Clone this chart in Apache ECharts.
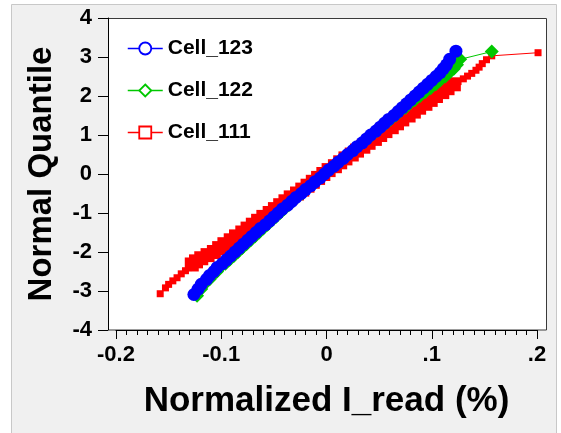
<!DOCTYPE html>
<html>
<head>
<meta charset="utf-8">
<script src="https://cdn.jsdelivr.net/npm/echarts@6/dist/echarts.min.js"></script>
<style>
  html, body { margin: 0; padding: 0; background: #ffffff; }
  #chart { width: 561px; height: 433px; }
</style>
</head>
<body>
<div id="chart"></div>
<script>
// Normal quantile plot of normalized read current for three cells.
const seriesNames = ['Cell_123', 'Cell_122', 'Cell_111'];

// Cell_123: normalized I_read (%) and matching normal quantile
const cell123X = [-0.126,-0.122,-0.119,-0.114,-0.111,-0.107,-0.104,-0.099,-0.095,-0.091,-0.087,
  -0.083,-0.079,-0.075,-0.071,-0.067,-0.063,-0.058,-0.054,-0.050,-0.046,
  -0.042,-0.037,-0.033,-0.029,-0.024,-0.020,-0.015,-0.011,-0.006,-0.002,
  0.002,0.007,0.011,0.016,0.020,0.025,0.029,0.034,0.038,0.042,
  0.047,0.051,0.055,0.059,0.064,0.068,0.072,0.076,0.080,0.084,
  0.088,0.092,0.096,0.100,0.104,0.108,0.111,0.114,0.117,0.123];
const cell123Q = [-3.09,-2.95,-2.83,-2.7,-2.6,-2.5,-2.4,-2.3,-2.2,-2.1,-2.0,
  -1.9,-1.8,-1.7,-1.6,-1.5,-1.4,-1.3,-1.2,-1.1,-1.0,
  -0.9,-0.8,-0.7,-0.6,-0.5,-0.4,-0.3,-0.2,-0.1,0,
  0.1,0.2,0.3,0.4,0.5,0.6,0.7,0.8,0.9,1.0,
  1.1,1.2,1.3,1.4,1.5,1.6,1.7,1.8,1.9,2.0,
  2.1,2.2,2.3,2.4,2.5,2.6,2.7,2.8,2.94,3.15];

// Cell_122
const cell122X = [-0.123,-0.119,-0.116,-0.111,-0.108,-0.104,-0.101,-0.096,-0.092,-0.088,-0.084,
  -0.080,-0.076,-0.072,-0.068,-0.064,-0.060,-0.056,-0.052,-0.048,-0.044,
  -0.040,-0.036,-0.032,-0.028,-0.023,-0.019,-0.015,-0.010,-0.006,-0.002,
  0.003,0.007,0.012,0.016,0.021,0.025,0.030,0.034,0.039,0.043,
  0.048,0.052,0.057,0.061,0.066,0.070,0.075,0.079,0.084,0.089,
  0.094,0.099,0.104,0.108,0.113,0.117,0.121,0.124,0.127,0.157];
const cell122Q = [-3.12,-2.95,-2.83,-2.7,-2.6,-2.5,-2.4,-2.3,-2.2,-2.1,-2.0,
  -1.9,-1.8,-1.7,-1.6,-1.5,-1.4,-1.3,-1.2,-1.1,-1.0,
  -0.9,-0.8,-0.7,-0.6,-0.5,-0.4,-0.3,-0.2,-0.1,0,
  0.1,0.2,0.3,0.4,0.5,0.6,0.7,0.8,0.9,1.0,
  1.1,1.2,1.3,1.4,1.5,1.6,1.7,1.8,1.9,2.0,
  2.1,2.2,2.3,2.4,2.5,2.6,2.7,2.8,2.94,3.14];

// Cell_111
const cell111X = [-0.158,-0.153,-0.150,-0.146,-0.142,-0.138,-0.134,-0.131,-0.128,-0.124,-0.119,-0.113,
  -0.107,-0.102,-0.097,-0.091,-0.086,-0.080,-0.075,-0.070,-0.065,-0.060,
  -0.054,-0.049,-0.044,-0.039,-0.034,-0.028,-0.023,-0.018,-0.013,-0.008,
  -0.003,0.002,0.008,0.013,0.018,0.024,0.029,0.035,0.040,0.046,
  0.051,0.056,0.062,0.067,0.072,0.078,0.083,0.088,0.094,0.099,
  0.104,0.110,0.115,0.121,
  0.125,0.130,0.134,0.138,0.142,0.145,0.148,0.152,0.157,0.201];
const cell111Q = [-3.07,-2.92,-2.83,-2.74,-2.66,-2.56,-2.48,-2.40,-2.32,-2.24,-2.16,-2.08,
  -2.0,-1.9,-1.8,-1.7,-1.6,-1.5,-1.4,-1.3,-1.2,-1.1,
  -1.0,-0.9,-0.8,-0.7,-0.6,-0.5,-0.4,-0.3,-0.2,-0.1,
  0,0.1,0.2,0.3,0.4,0.5,0.6,0.7,0.8,0.9,
  1.0,1.1,1.2,1.3,1.4,1.5,1.6,1.7,1.8,1.9,
  2.0,2.1,2.2,2.3,
  2.37,2.44,2.51,2.58,2.66,2.74,2.83,2.93,3.03,3.11];

// Axis tick values and their printed labels
const xTickValues = [-0.2, -0.1, 0, 0.1, 0.2];
const xTickLabels = ['-0.2', '-0.1', '0', '.1', '.2'];
const yTickValues = [-4, -3, -2, -1, 0, 1, 2, 3, 4];
const yTickLabels = ['-4', '-3', '-2', '-1', '0', '1', '2', '3', '4'];

const colors = { 'Cell_123': '#0000ff', 'Cell_122': '#00c800', 'Cell_111': '#ff0000' };
const symbols = { 'Cell_123': 'circle', 'Cell_122': 'diamond', 'Cell_111': 'rect' };
const FONT = '"Liberation Sans", Arial, sans-serif';

function pairs(xs, qs) {
  return xs.map((x, i) => [x, qs[i]]);
}

function labelFor(values, labels, v) {
  let best = 0;
  for (let i = 1; i < values.length; i++) {
    if (Math.abs(values[i] - v) < Math.abs(values[best] - v)) best = i;
  }
  return labels[best];
}

// Sparse tail points of a series are drawn smaller than its dense body.
function makeSeries(name, xs, qs, size, tailSize) {
  return {
    name: name,
    type: 'line',
    data: pairs(xs, qs),
    symbol: symbols[name],
    symbolSize: tailSize ? (v) => (Math.abs(v[1]) > 2.33 ? tailSize : size) : size,
    itemStyle: { color: colors[name] },
    lineStyle: { color: colors[name], width: 1 },
    clip: false,
    silent: true
  };
}

const chart = echarts.init(document.getElementById('chart'), null, { renderer: 'canvas' });

chart.setOption({
  animation: false,
  backgroundColor: '#ffffff',
  graphic: [
    {
      type: 'rect', z: -20, silent: true,
      shape: { x: 11.5, y: 4.5, width: 545, height: 430 },
      style: { fill: '#f0f0f0', stroke: '#c8c8c8', lineWidth: 1 }
    },
    {
      type: 'rect', z: -10, silent: true,
      shape: { x: 108.5, y: 18.5, width: 438, height: 311.5 },
      style: { fill: '#ffffff', stroke: '#3a3a3a', lineWidth: 1 }
    }
  ],
  grid: { left: 116, right: 24, top: 18, bottom: 103, containLabel: false },
  xAxis: {
    type: 'value',
    min: -0.2, max: 0.2, interval: 0.1,
    name: 'Normalized I_read (%)',
    nameLocation: 'middle',
    nameGap: 54,
    nameTextStyle: { fontFamily: FONT, fontWeight: 'bold', fontSize: 35, color: '#000' },
    axisLine: { show: true, onZero: false, lineStyle: { color: '#000', width: 1 } },
    axisTick: { show: true, length: 9, lineStyle: { color: '#000' } },
    minorTick: { show: true, splitNumber: 10, length: 5, lineStyle: { color: '#000' } },
    splitLine: { show: false },
    axisLabel: {
      margin: 14,
      fontFamily: FONT, fontWeight: 'bold', fontSize: 22, color: '#000',
      formatter: (v) => labelFor(xTickValues, xTickLabels, v)
    }
  },
  yAxis: {
    type: 'value',
    min: -4, max: 4, interval: 1,
    offset: 8,
    name: 'Normal Quantile',
    nameLocation: 'middle',
    nameGap: 50,
    nameTextStyle: { fontFamily: FONT, fontWeight: 'bold', fontSize: 33, color: '#000' },
    axisLine: { show: true, onZero: false, lineStyle: { color: '#000', width: 1 } },
    axisTick: { show: true, length: 10, lineStyle: { color: '#000' } },
    splitLine: { show: false },
    axisLabel: {
      margin: 16,
      fontFamily: FONT, fontWeight: 'bold', fontSize: 22, color: '#000',
      formatter: (v) => labelFor(yTickValues, yTickLabels, v)
    }
  },
  legend: {
    orient: 'vertical',
    left: 122, top: 33,
    itemWidth: 35, itemHeight: 15, itemGap: 21,
    selectedMode: false,
    textStyle: { fontFamily: FONT, fontWeight: 'bold', fontSize: 21, color: '#000' },
    data: seriesNames.map((n) => ({
      name: n,
      itemStyle: { color: '#ffffff', borderColor: colors[n], borderWidth: 1.8 },
      lineStyle: { color: colors[n], width: 1.5 }
    }))
  },
  // Drawing order: Cell_111 at the back, Cell_123 in front
  series: [
    makeSeries('Cell_111', cell111X, cell111Q, 14, 7),
    makeSeries('Cell_122', cell122X, cell122Q, 14, 0),
    makeSeries('Cell_123', cell123X, cell123Q, 13, 0)
  ]
});
</script>
</body>
</html>
